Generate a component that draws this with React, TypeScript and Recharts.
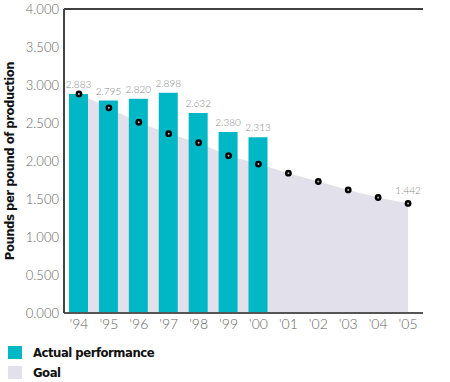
import { ComposedChart, Bar, Area, Line, XAxis, YAxis, ReferenceLine, LabelList, Legend } from 'recharts';

const years = ["'94", "'95", "'96", "'97", "'98", "'99", "'00", "'01", "'02", "'03", "'04", "'05"];
const actual = [2.883, 2.795, 2.82, 2.898, 2.632, 2.38, 2.313, null, null, null, null, null];
const goal = [2.883, 2.7, 2.51, 2.36, 2.24, 2.07, 1.96, 1.84, 1.73, 1.62, 1.52, 1.442];
const yTicks = [0, 0.5, 1, 1.5, 2, 2.5, 3, 3.5, 4];
const seriesNames = ['Actual performance', 'Goal'];

const TEAL = '#00b7c6';
const GOAL = '#e2e1eb';
const NARROW = '"Liberation Sans Narrow", "DejaVu Sans Condensed", "Arial Narrow", sans-serif';
const LIGHT = 'Lato, "Open Sans", sans-serif';

const data = years.map((year, i) => ({ year, actual: actual[i], goal: goal[i] }));

const GoalDot = (props: any) => {
  const { cx, cy } = props;
  if (cx == null || cy == null) return null;
  return (
    <g>
      <circle cx={cx} cy={cy} r={3.4} fill="#000" />
      <circle cx={cx} cy={cy} r={1} fill="#bbb" />
    </g>
  );
};

const LegendBox = () => (
  <div style={{ fontFamily: NARROW, fontWeight: 'bold', fontSize: 13, letterSpacing: -0.5, color: '#111' }}>
    {seriesNames.map((name, i) => (
      <div key={name} style={{ display: 'flex', alignItems: 'center', height: 20 }}>
        <span style={{ display: 'inline-block', width: 14, height: 13, background: i === 0 ? TEAL : GOAL, marginRight: 11 }} />
        {name}
      </div>
    ))}
  </div>
);

export default function App() {
  return (
    <div style={{ position: 'absolute', left: 0, top: 0, width: 450, height: 382, background: '#fff' }}>
      <ComposedChart width={450} height={382} data={data} margin={{ top: 9, right: 27, bottom: 2, left: 8 }} barCategoryGap={0}>
        <XAxis
          dataKey="year"
          height={29}
          tickLine={false}
          tickSize={0}
          tickMargin={6}
          axisLine={{ stroke: '#555', strokeWidth: 2 }}
          tick={{ fill: '#666', fontSize: 14, fontFamily: LIGHT, fontWeight: 300 }}
          interval={0}
        />
        <YAxis
          domain={[0, 4]}
          ticks={yTicks}
          width={56}
          tickLine={false}
          tickSize={3}
          tickMargin={2}
          axisLine={{ stroke: '#444', strokeWidth: 2 }}
          tick={{ fill: '#666', fontSize: 13, fontFamily: LIGHT, fontWeight: 300 }}
          tickFormatter={(v: number) => v.toFixed(3)}
          label={{
            value: 'Pounds per pound of production',
            angle: -90,
            position: 'insideLeft',
            offset: 0,
            dx: 1,
            style: { textAnchor: 'middle', fontFamily: NARROW, fontWeight: 'bold', fontSize: 13, letterSpacing: -0.5, fill: '#111' },
          }}
        />
        <YAxis yAxisId="right" orientation="right" domain={[0, 4]} width={0} tick={false} tickLine={false} axisLine={{ stroke: '#999', strokeWidth: 1 }} />
        <ReferenceLine y={4} stroke="#000" strokeWidth={1.5} />
        <Area dataKey="goal" type="linear" fill={GOAL} fillOpacity={1} stroke="none" isAnimationActive={false} />
        <Bar dataKey="actual" fill={TEAL} barSize={19} isAnimationActive={false}>
          <LabelList
            dataKey="actual"
            position="top"
            offset={6}
            formatter={(v: any) => (v == null ? '' : Number(v).toFixed(3))}
            style={{ fill: '#888', fontSize: 10, fontFamily: LIGHT, fontWeight: 300 }}
          />
        </Bar>
        <Line dataKey="goal" stroke="none" dot={<GoalDot />} activeDot={false} isAnimationActive={false}>
          <LabelList
            dataKey="goal"
            content={(p: any) =>
              p.index === goal.length - 1 ? (
                <text x={p.x} y={p.y - 9} textAnchor="middle" fill="#888" fontSize={10} fontFamily={LIGHT} fontWeight={300}>
                  {Number(p.value).toFixed(3)}
                </text>
              ) : null
            }
          />
        </Line>
        <Legend verticalAlign="bottom" align="left" height={38} content={() => <LegendBox />} />
      </ComposedChart>
    </div>
  );
}
